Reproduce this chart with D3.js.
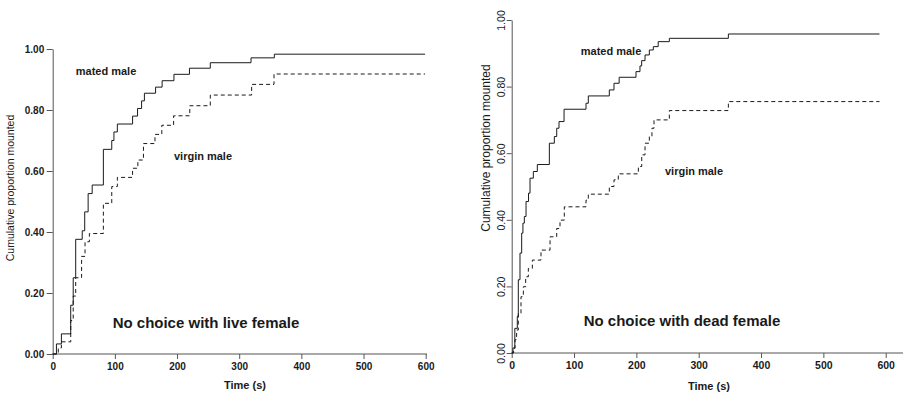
<!DOCTYPE html>
<html>
<head>
<meta charset="utf-8">
<script src="https://cdn.jsdelivr.net/npm/d3@7"></script>
<style>
  html, body { margin: 0; padding: 0; background: #fff; }
  svg { display: block; font-family: "Liberation Sans", Arial, sans-serif; }
</style>
</head>
<body>
<svg id="chart" width="904" height="394"></svg>
<script>
// step events: [time (s), cumulative proportion after the step]
const liveMated = [
  [6, 0.033], [14, 0.066], [29, 0.16], [33, 0.25], [37, 0.376], [47.5, 0.404],
  [51.5, 0.466], [57, 0.526], [63.5, 0.554], [81.5, 0.671], [95, 0.70], [98.5, 0.728],
  [104, 0.754], [128.5, 0.78], [136.5, 0.805], [143, 0.83], [147.5, 0.855],
  [165.5, 0.875], [176, 0.896], [195, 0.917], [220, 0.937], [253.5, 0.955],
  [319, 0.971], [356.5, 0.983]
];
const liveVirgin = [
  [9, 0.02], [14, 0.04], [29, 0.11], [33, 0.19], [37, 0.25], [46.5, 0.32],
  [52, 0.368], [59, 0.395], [81.5, 0.494], [95, 0.549], [104, 0.579],
  [128.5, 0.609], [137, 0.636], [146, 0.69], [164.5, 0.72], [175.5, 0.75],
  [194.5, 0.781], [220.5, 0.814], [253.5, 0.849], [320, 0.884], [356, 0.918]
];
const deadMated = [
  [2, 0.015], [5, 0.074], [9, 0.11], [10.6, 0.22], [13.3, 0.30], [16, 0.36],
  [18, 0.39], [20.3, 0.41], [23, 0.455], [27, 0.48], [29.4, 0.525], [34.7, 0.545],
  [41.1, 0.566], [60.4, 0.63], [68.4, 0.65], [72.2, 0.675], [75.9, 0.695],
  [84, 0.732], [119.2, 0.75], [122.9, 0.772], [156.6, 0.79], [164.1, 0.81],
  [172.4, 0.828], [199.4, 0.845], [205.8, 0.862], [208.5, 0.878], [213.9, 0.895],
  [220.8, 0.91], [227.2, 0.92], [235, 0.935], [252.9, 0.945], [347.6, 0.958]
];
const deadVirgin = [
  [3, 0.014], [5.3, 0.04], [7.9, 0.069], [10.6, 0.119], [14.9, 0.169],
  [18.7, 0.199], [22.4, 0.229], [26.7, 0.254], [33.1, 0.279], [47, 0.309],
  [61.5, 0.349], [72.2, 0.374], [77.5, 0.399], [84.4, 0.439], [119.2, 0.459],
  [122.9, 0.477], [156.6, 0.50], [164.1, 0.52], [171, 0.538], [203.2, 0.56],
  [208.6, 0.595], [213.9, 0.63], [220.8, 0.65], [225, 0.675], [228.3, 0.70],
  [252.9, 0.728], [347.6, 0.755]
];
const timeTicks = [0, 100, 200, 300, 400, 500, 600];
const propTicks = [0, 0.2, 0.4, 0.6, 0.8, 1.0];

const svg = d3.select("#chart");
const axisColor = "#555";
const inkColor = "#1a1a1a";

const panels = [
  {
    x: d3.scaleLinear().domain([0, 600]).range([52.7, 425.7]),
    y: d3.scaleLinear().domain([0, 1]).range([354, 49]),
    xAxisEnd: 427, endTime: 599, rotateY: false,
    mated: liveMated, virgin: liveVirgin,
    title: "No choice with live female", titlePos: [206, 328],
    matedPos: [106, 75], virginPos: [203, 160],
    yTitlePos: [13.5, 188], yTitleSize: 10.5, xTitlePos: [245, 389], labelSize: 10
  },
  {
    x: d3.scaleLinear().domain([0, 600]).range([511.7, 885.7]),
    y: d3.scaleLinear().domain([0, 1]).range([353, 20]),
    xAxisEnd: 903, endTime: 590, rotateY: true,
    mated: deadMated, virgin: deadVirgin,
    title: "No choice with dead female", titlePos: [682, 326],
    matedPos: [611, 55], virginPos: [694, 175],
    yTitlePos: [489.5, 148], yTitleSize: 12, xTitlePos: [709, 390], labelSize: 10.5
  }
];

panels.forEach((p) => {
  const g = svg.append("g");

  // x axis
  const xAxis = g.append("g")
    .attr("transform", `translate(0,${p.y(0)})`)
    .call(d3.axisBottom(p.x).tickValues(timeTicks).tickSize(5).tickSizeOuter(0).tickFormat(d3.format("d")));
  xAxis.select(".domain").remove();
  xAxis.selectAll(".tick line").attr("stroke", axisColor);
  xAxis.selectAll(".tick text")
    .attr("y", 9).attr("dy", "0.71em")
    .attr("fill", inkColor).attr("font-size", p.labelSize).attr("font-weight", "bold")
    .attr("font-family", "Liberation Sans, Arial, sans-serif");
  g.append("line")
    .attr("x1", p.x(0)).attr("x2", p.xAxisEnd)
    .attr("y1", p.y(0)).attr("y2", p.y(0))
    .attr("stroke", axisColor);

  // y axis
  const yAxis = g.append("g")
    .attr("transform", `translate(${p.x(0)},0)`)
    .call(d3.axisLeft(p.y).tickValues(propTicks).tickSize(p.rotateY ? 5 : 6).tickSizeOuter(0).tickFormat(d3.format(".2f")));
  yAxis.select(".domain").attr("stroke", axisColor);
  yAxis.selectAll(".tick line").attr("stroke", axisColor);
  const yText = yAxis.selectAll(".tick text")
    .attr("fill", inkColor).attr("font-size", p.labelSize)
    .attr("font-family", "Liberation Sans, Arial, sans-serif");
  if (p.rotateY) {
    yText.attr("x", 0).attr("y", 0).attr("dy", 0)
      .attr("text-anchor", "middle")
      .attr("transform", "translate(-6.5,0) rotate(-90)");
  } else {
    yText.attr("x", -8.5).attr("font-weight", "bold");
  }

  // curves
  const line = d3.line()
    .x((d) => p.x(d[0]))
    .y((d) => p.y(d[1]))
    .curve(d3.curveStepAfter);
  const full = (steps) => [[0, 0], ...steps, [p.endTime, steps[steps.length - 1][1]]];

  g.append("path")
    .datum(full(p.virgin))
    .attr("d", line)
    .attr("fill", "none")
    .attr("stroke", inkColor)
    .attr("stroke-width", 1)
    .attr("stroke-dasharray", "4,3");
  g.append("path")
    .datum(full(p.mated))
    .attr("d", line)
    .attr("fill", "none")
    .attr("stroke", inkColor)
    .attr("stroke-width", 1);

  // texts
  g.append("text")
    .attr("transform", `translate(${p.yTitlePos[0]},${p.yTitlePos[1]}) rotate(-90)`)
    .attr("text-anchor", "middle")
    .attr("font-size", p.yTitleSize)
    .attr("fill", inkColor)
    .text("Cumulative proportion mounted");
  g.append("text")
    .attr("x", p.xTitlePos[0]).attr("y", p.xTitlePos[1])
    .attr("text-anchor", "middle")
    .attr("font-size", 11).attr("font-weight", "bold")
    .attr("fill", inkColor)
    .text("Time (s)");
  g.append("text")
    .attr("x", p.matedPos[0]).attr("y", p.matedPos[1])
    .attr("text-anchor", "middle")
    .attr("font-size", 11).attr("font-weight", "bold")
    .attr("fill", inkColor)
    .text("mated male");
  g.append("text")
    .attr("x", p.virginPos[0]).attr("y", p.virginPos[1])
    .attr("text-anchor", "middle")
    .attr("font-size", 11).attr("font-weight", "bold")
    .attr("fill", inkColor)
    .text("virgin male");
  g.append("text")
    .attr("x", p.titlePos[0]).attr("y", p.titlePos[1])
    .attr("text-anchor", "middle")
    .attr("font-size", 15).attr("font-weight", "bold")
    .attr("fill", inkColor)
    .text(p.title);
});
</script>
</body>
</html>
